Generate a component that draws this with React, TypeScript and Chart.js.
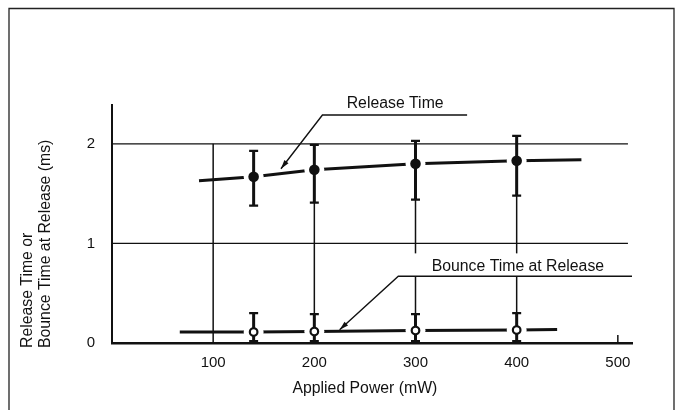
import React, { useEffect, useRef } from "react";
import { Chart, registerables } from "chart.js";

Chart.register(...registerables);

// ---- data ----
const xTicks = [100, 200, 300, 400, 500];
const yTicks = [0, 1, 2];
const powers = [140, 200, 300, 400];
const releaseTime = [1.67, 1.74, 1.8, 1.83];
const releaseMin = [1.38, 1.41, 1.44, 1.48];
const releaseMax = [1.93, 1.99, 2.03, 2.08];
const bounceTime = [0.11, 0.115, 0.125, 0.13];
const bounceMin = [0.02, 0.02, 0.02, 0.02];
const bounceMax = [0.3, 0.29, 0.29, 0.3];
const releaseTrendX = [86, 464];
const releaseTrendY = [1.63, 1.84];
const bounceTrendX = [67, 440];
const bounceTrendY = [0.11, 0.135];
const gridY = [1, 2];
const gridYEnd = 510;
const gridVX = [100, 200, 300, 300, 400, 400, 500];
const gridVFrom = [0, 0, 0, 0.9, 0, 0.9, 0];
const gridVTo = [2, 1.99, 0.67, 2.03, 0.67, 2.08, 0.08];
const releaseLeaderX = [167, 208, 351];
const releaseLeaderY = [1.75, 2.29, 2.29];
const bounceLeaderX = [225, 283, 514];
const bounceLeaderY = [0.134, 0.67, 0.67];
const releaseLabel = { text: "Release Time", x: 232, y: 2.355 };
const bounceLabel = { text: "Bounce Time at Release", x: 316, y: 0.727 };
const xTitle = { text: "Applied Power (mW)", x: 250 };
const yTitleLines = ["Release Time or", "Bounce Time at Release (ms)"];

const FONT = "'Liberation Sans', Arial, Helvetica, sans-serif";
const INK = "#111";

const pts = (xs: number[], ys: number[]) => xs.map((x, i) => ({ x, y: ys[i] }));

export default function App() {
  const ref = useRef<HTMLCanvasElement | null>(null);

  useEffect(() => {
    const canvas = ref.current;
    if (!canvas) return;

    const releaseLine = [
      { x: releaseTrendX[0], y: releaseTrendY[0] },
      ...pts(powers, releaseTime),
      { x: releaseTrendX[1], y: releaseTrendY[1] },
    ];
    const bounceLine = [
      { x: bounceTrendX[0], y: bounceTrendY[0] },
      ...pts(powers, bounceTime),
      { x: bounceTrendX[1], y: bounceTrendY[1] },
    ];

    const datasets: any[] = [
      {
        label: "releaseMarkers",
        data: pts(powers, releaseTime),
        showLine: false,
        pointRadius: 5,
        pointBackgroundColor: INK,
        pointBorderColor: INK,
        pointBorderWidth: 1,
        order: 0,
      },
      {
        label: "bounceMarkers",
        data: pts(powers, bounceTime),
        showLine: false,
        pointRadius: 3.8,
        pointBackgroundColor: "#fff",
        pointBorderColor: INK,
        pointBorderWidth: 2.2,
        order: 0,
      },
      {
        label: "releaseTrend",
        data: releaseLine,
        showLine: true,
        borderColor: INK,
        borderWidth: 3,
        pointRadius: 0,
        tension: 0,
        order: 2,
      },
      {
        label: "bounceTrend",
        data: bounceLine,
        showLine: true,
        borderColor: INK,
        borderWidth: 3,
        pointRadius: 0,
        tension: 0,
        order: 2,
      },
      ...gridY.map((v) => ({
        label: "gridH",
        data: [
          { x: 0, y: v },
          { x: gridYEnd, y: v },
        ],
        showLine: true,
        borderColor: INK,
        borderWidth: 1.3,
        pointRadius: 0,
        order: 3,
      })),
      ...gridVX.map((x, i) => ({
        label: "gridV",
        data: [
          { x, y: gridVFrom[i] },
          { x, y: gridVTo[i] },
        ],
        showLine: true,
        borderColor: INK,
        borderWidth: 1.5,
        pointRadius: 0,
        order: 3,
      })),
      {
        label: "releaseLeader",
        data: pts(releaseLeaderX, releaseLeaderY),
        showLine: true,
        borderColor: INK,
        borderWidth: 1.4,
        pointRadius: 0,
        tension: 0,
        order: 3,
      },
      {
        label: "bounceLeader",
        data: pts(bounceLeaderX, bounceLeaderY),
        showLine: true,
        borderColor: INK,
        borderWidth: 1.4,
        pointRadius: 0,
        tension: 0,
        order: 3,
      },
    ];

    const drawBar = (ctx: CanvasRenderingContext2D, x: number, y1: number, y2: number) => {
      ctx.lineWidth = 3;
      ctx.beginPath();
      ctx.moveTo(x, y1);
      ctx.lineTo(x, y2);
      ctx.stroke();
      ctx.lineWidth = 2.2;
      ctx.beginPath();
      ctx.moveTo(x - 4.5, y1);
      ctx.lineTo(x + 4.5, y1);
      ctx.moveTo(x - 4.5, y2);
      ctx.lineTo(x + 4.5, y2);
      ctx.stroke();
    };

    const arrow = (ctx: CanvasRenderingContext2D, fx: number, fy: number, tx: number, ty: number) => {
      const a = Math.atan2(ty - fy, tx - fx);
      const len = 9;
      const w = 2.6;
      ctx.beginPath();
      ctx.moveTo(tx, ty);
      ctx.lineTo(tx - len * Math.cos(a) + w * Math.sin(a), ty - len * Math.sin(a) - w * Math.cos(a));
      ctx.lineTo(tx - len * Math.cos(a) - w * Math.sin(a), ty - len * Math.sin(a) + w * Math.cos(a));
      ctx.closePath();
      ctx.fill();
    };

    const disk = (ctx: CanvasRenderingContext2D, x: number, y: number, r: number) => {
      ctx.beginPath();
      ctx.arc(x, y, r, 0, Math.PI * 2);
      ctx.closePath();
    };

    const decor = {
      id: "decor",
      beforeDraw(chart: any) {
        const ctx = chart.ctx as CanvasRenderingContext2D;
        ctx.save();
        ctx.strokeStyle = "#222";
        ctx.lineWidth = 1.3;
        ctx.beginPath();
        ctx.moveTo(9, 420);
        ctx.lineTo(9, 8.5);
        ctx.lineTo(674, 8.5);
        ctx.lineTo(674, 420);
        ctx.stroke();
        ctx.restore();
      },
      afterDatasetsDraw(chart: any) {
        const ctx = chart.ctx as CanvasRenderingContext2D;
        const xs = chart.scales.x;
        const ys = chart.scales.y;
        ctx.save();
        // white gaps around the markers (break the trend lines)
        ctx.fillStyle = "#ffffff";
        powers.forEach((p, i) => {
          const px = xs.getPixelForValue(p);
          disk(ctx, px, ys.getPixelForValue(releaseTime[i]), 10);
          ctx.fill();
          disk(ctx, px, ys.getPixelForValue(bounceTime[i]), 10);
          ctx.fill();
        });
        // error bars
        ctx.strokeStyle = INK;
        powers.forEach((p, i) => {
          const px = xs.getPixelForValue(p);
          drawBar(ctx, px, ys.getPixelForValue(releaseMin[i]), ys.getPixelForValue(releaseMax[i]));
          drawBar(ctx, px, ys.getPixelForValue(bounceMin[i]), ys.getPixelForValue(bounceMax[i]));
        });
        // markers on top
        powers.forEach((p, i) => {
          const px = xs.getPixelForValue(p);
          ctx.fillStyle = INK;
          disk(ctx, px, ys.getPixelForValue(releaseTime[i]), 5.3);
          ctx.fill();
          ctx.fillStyle = "#fff";
          ctx.lineWidth = 2.2;
          disk(ctx, px, ys.getPixelForValue(bounceTime[i]), 3.8);
          ctx.fill();
          ctx.stroke();
        });
        ctx.restore();
      },
      afterDraw(chart: any) {
        const ctx = chart.ctx as CanvasRenderingContext2D;
        const xs = chart.scales.x;
        const ys = chart.scales.y;
        ctx.save();
        ctx.fillStyle = INK;
        arrow(
          ctx,
          xs.getPixelForValue(releaseLeaderX[1]),
          ys.getPixelForValue(releaseLeaderY[1]),
          xs.getPixelForValue(releaseLeaderX[0]),
          ys.getPixelForValue(releaseLeaderY[0])
        );
        arrow(
          ctx,
          xs.getPixelForValue(bounceLeaderX[1]),
          ys.getPixelForValue(bounceLeaderY[1]),
          xs.getPixelForValue(bounceLeaderX[0]),
          ys.getPixelForValue(bounceLeaderY[0])
        );
        ctx.font = `15.8px ${FONT}`;
        ctx.textAlign = "left";
        ctx.textBaseline = "alphabetic";
        ctx.fillText(releaseLabel.text, xs.getPixelForValue(releaseLabel.x), ys.getPixelForValue(releaseLabel.y));
        ctx.fillText(bounceLabel.text, xs.getPixelForValue(bounceLabel.x), ys.getPixelForValue(bounceLabel.y));
        ctx.textAlign = "center";
        ctx.fillText(xTitle.text, xs.getPixelForValue(xTitle.x), 393);
        ctx.translate(0, 348);
        ctx.rotate(-Math.PI / 2);
        ctx.textAlign = "left";
        ctx.fillText(yTitleLines[0], 0, 31.5);
        ctx.fillText(yTitleLines[1], 0, 50);
        ctx.restore();
      },
    };

    const chart = new Chart(canvas, {
      type: "scatter",
      data: { datasets },
      options: {
        animation: false,
        responsive: false,
        maintainAspectRatio: false,
        events: [],
        layout: { padding: { top: 105, right: 46, left: 0, bottom: 0 } },
        plugins: { legend: { display: false }, tooltip: { enabled: false } },
        scales: {
          x: {
            type: "linear",
            min: 0,
            max: 514,
            afterBuildTicks: (s: any) => {
              s.ticks = xTicks.map((v) => ({ value: v }));
            },
            afterFit: (s: any) => {
              s.height = 67;
            },
            grid: { display: false, drawTicks: false },
            border: { display: true, width: 2.5, color: INK },
            ticks: { color: INK, padding: 11, font: { family: FONT, size: 15 } },
          },
          y: {
            type: "linear",
            min: 0,
            max: 2.39,
            afterBuildTicks: (s: any) => {
              s.ticks = yTicks.map((v) => ({ value: v }));
            },
            afterFit: (s: any) => {
              s.width = 112;
            },
            grid: { display: false, drawTicks: false },
            border: { display: true, width: 2, color: INK },
            ticks: { color: INK, padding: 17, font: { family: FONT, size: 15 } },
          },
        },
      } as any,
      plugins: [decor],
    });

    return () => chart.destroy();
  }, []);

  return (
    <div style={{ position: "fixed", left: 0, top: 0, width: 678, height: 410, background: "#fff" }}>
      <canvas ref={ref} width={678} height={410} style={{ width: 678, height: 410, display: "block" }} />
    </div>
  );
}
